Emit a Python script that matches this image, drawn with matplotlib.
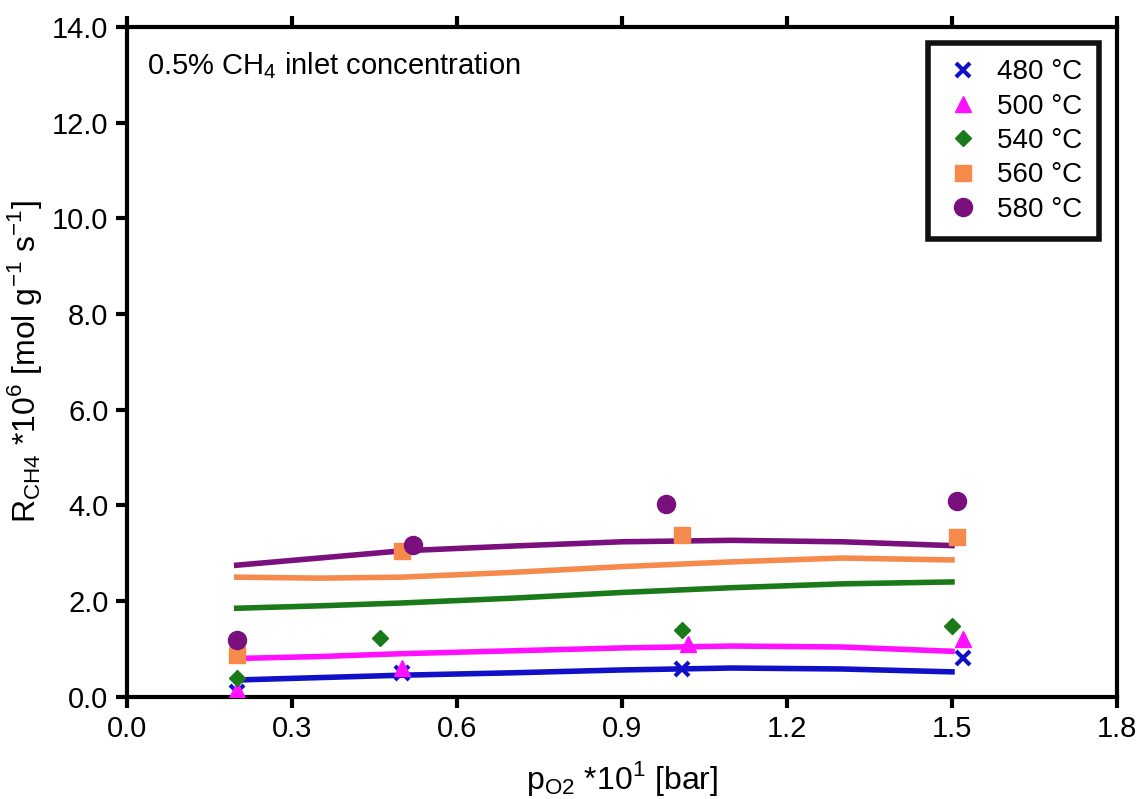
import numpy as np
import matplotlib.pyplot as plt

plt.rcParams['font.family'] = ['Liberation Sans', 'DejaVu Sans']

# measured points (p_O2 *10, rate *1e6)
labels = ['480 °C', '500 °C', '540 °C', '560 °C', '580 °C']
colors = ['#1010c8', '#ff10ff', '#1a7a1a', '#f58a4c', '#7a0f7e']
markers = ['x', '^', 'D', 's', 'o']
msizes = [10, 11, 8, 11, 13]

x_480 = [0.20, 0.50, 1.01, 1.52]
y_480 = [0.10, 0.50, 0.58, 0.80]
x_500 = [0.20, 0.50, 1.02, 1.52]
y_500 = [0.15, 0.60, 1.10, 1.20]
x_540 = [0.20, 0.46, 1.01, 1.50]
y_540 = [0.40, 1.22, 1.40, 1.48]
x_560 = [0.20, 0.50, 1.01, 1.51]
y_560 = [0.88, 3.05, 3.38, 3.35]
x_580 = [0.20, 0.52, 0.98, 1.51]
y_580 = [1.18, 3.18, 4.02, 4.10]

# model curves
fit_x = [0.20, 0.35, 0.50, 0.70, 0.90, 1.10, 1.30, 1.50]
fit_480 = [0.35, 0.40, 0.45, 0.50, 0.56, 0.60, 0.58, 0.52]
fit_500 = [0.80, 0.84, 0.90, 0.96, 1.02, 1.06, 1.04, 0.95]
fit_540 = [1.85, 1.90, 1.96, 2.06, 2.18, 2.28, 2.36, 2.40]
fit_560 = [2.50, 2.48, 2.50, 2.60, 2.72, 2.82, 2.90, 2.86]
fit_580 = [2.75, 2.90, 3.05, 3.15, 3.24, 3.27, 3.24, 3.16]

xs = [x_480, x_500, x_540, x_560, x_580]
ys = [y_480, y_500, y_540, y_560, y_580]
fits = [fit_480, fit_500, fit_540, fit_560, fit_580]

fig = plt.figure(figsize=(11.41, 7.99), dpi=100)
ax = fig.add_axes([0.111, 0.128, 0.868, 0.838])

for i in range(5):
    ax.plot(fit_x, fits[i], color=colors[i], lw=4, zorder=2)
for i in range(5):
    mew = 3 if markers[i] == 'x' else 1
    ax.plot(xs[i], ys[i], linestyle='none', marker=markers[i], color=colors[i],
            markersize=msizes[i], markeredgewidth=mew, label=labels[i], zorder=3)

ax.set_xlim(0, 1.8)
ax.set_ylim(0, 14)
ax.set_xticks(np.arange(0, 1.81, 0.3))
ax.set_yticks(np.arange(0, 14.1, 2))
ax.set_xticklabels([f'{v:.1f}' for v in np.arange(0, 1.81, 0.3)])
ax.set_yticklabels([f'{v:.1f}' for v in np.arange(0, 14.1, 2)])
ax.tick_params(axis='both', direction='out', length=8, width=3, labelsize=21, pad=5)
ax.tick_params(axis='x', top=True, labeltop=False)
for s in ax.spines.values():
    s.set_linewidth(3)

ax.set_xlabel(r'p$_{\mathregular{O2}}$ *10$^{\mathregular{1}}$ [bar]', fontsize=23, labelpad=12)
ax.set_ylabel(r'R$_{\mathregular{CH4}}$ *10$^{\mathregular{6}}$ [mol g$^{\mathregular{-1}}$ s$^{\mathregular{-1}}$]',
              fontsize=23, labelpad=6)

ax.text(0.021, 0.965, r'0.5% CH$_{\mathregular{4}}$ inlet concentration', transform=ax.transAxes,
        fontsize=21, va='top', ha='left')

leg = ax.legend(loc='upper right', bbox_to_anchor=(0.982, 0.977), fontsize=20, frameon=True,
                fancybox=False, edgecolor='#111111', framealpha=1, handletextpad=0.6,
                borderpad=0.6, labelspacing=0.3, handlelength=1.3, borderaxespad=0)
leg.get_frame().set_linewidth(4)

fig.savefig('out.png', dpi=100)
